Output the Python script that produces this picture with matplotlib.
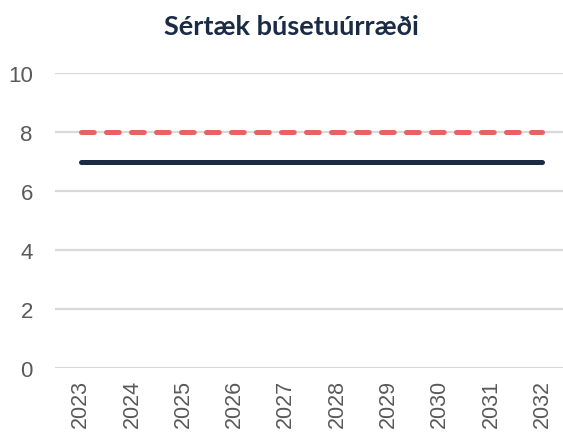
import matplotlib
matplotlib.use("Agg")
import matplotlib.pyplot as plt

years = ["2023", "2024", "2025", "2026", "2027", "2028", "2029", "2030", "2031", "2032"]
actual = [7, 7, 7, 7, 7, 7, 7, 7, 7, 7]
target = [8, 8, 8, 8, 8, 8, 8, 8, 8, 8]
y_ticks = [0, 2, 4, 6, 8, 10]

fig = plt.figure(figsize=(5.63, 4.39), dpi=100)
ax = fig.add_axes([55 / 563, 70 / 439, 513 / 563, 295 / 439])

x = list(range(len(years)))
lw = 3.6
ax.plot(x, target, color="#E8625F", lw=lw, ls=(0, (2.55, 2.45)),
        dash_capstyle="round", solid_capstyle="round", zorder=3)
ax.plot(x, actual, color="#1A2B45", lw=lw, solid_capstyle="round", zorder=3)

ax.set_xlim(-0.5, len(years) - 0.5)
ax.set_ylim(0, 10)
ax.set_yticks(y_ticks)
ax.set_yticklabels([str(v) for v in y_ticks], family="Liberation Sans",
                   fontsize=16, color="#595959")
ax.set_xticks(x)
ax.set_xticklabels(years, rotation=90, family="Liberation Sans",
                   fontsize=15.5, color="#595959")
ax.tick_params(axis="y", length=0, pad=16)
ax.tick_params(axis="x", length=0, pad=8)
ax.grid(axis="y", color="#D9D9D9", lw=1.6, zorder=0)
ax.set_axisbelow(True)
for s in ax.spines.values():
    s.set_visible(False)

fig.text(291 / 563, 1 - 27 / 439, "Sértæk búsetuúrræði", ha="center", va="center",
         family="Lato", fontweight="bold", fontsize=19.5, color="#1A2B45")

fig.savefig("out.png", dpi=100)
